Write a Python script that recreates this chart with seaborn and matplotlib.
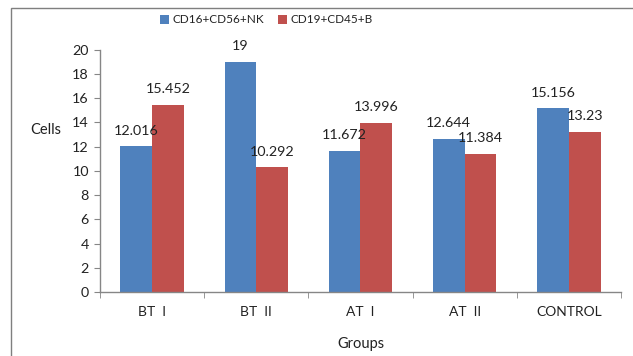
import numpy as np
import pandas as pd
import matplotlib
matplotlib.use('Agg')
import matplotlib.pyplot as plt
import seaborn as sns
from matplotlib.patches import Rectangle

# data
groups = ['BT  I', 'BT  II', 'AT  I', 'AT  II', 'CONTROL']
series = ['CD16+CD56+NK', 'CD19+CD45+B']
nk_vals = [12.016, 19, 11.672, 12.644, 15.156]
b_vals = [15.452, 10.292, 13.996, 11.384, 13.23]

df = pd.DataFrame({
    'Groups': groups * 2,
    'Series': [series[0]] * len(groups) + [series[1]] * len(groups),
    'Cells': nk_vals + b_vals,
})

sns.set_style('white')
plt.rcParams['font.family'] = ['Lato', 'DejaVu Sans']

fig = plt.figure(figsize=(6.33, 3.56), dpi=100)
ax = fig.add_axes([0.158, 0.180, 0.823, 0.680])

palette = {series[0]: '#4F81BD', series[1]: '#C0504D'}
sns.barplot(data=df, x='Groups', y='Cells', hue='Series', palette=palette,
            width=0.61, saturation=1, linewidth=0, ax=ax, legend=True)

for cont in ax.containers:
    ax.bar_label(cont, labels=[f'{v:g}' for v in cont.datavalues],
                 padding=7, fontsize=10.3, color='#222222')

ax.set_ylim(0, 20)
ax.set_yticks(np.arange(0, 21, 2))
ax.set_xlim(-0.5, len(groups) - 0.5)

gray = '#868686'
sns.despine(ax=ax)
for s in ['left', 'bottom']:
    ax.spines[s].set_color(gray)
    ax.spines[s].set_linewidth(1.0)

ax.tick_params(axis='y', which='major', direction='out', length=4, color=gray,
               left=True, labelsize=10.3, pad=4, labelcolor='#222222')
ax.tick_params(axis='x', which='major', length=0, labelsize=10, pad=10,
               labelcolor='#222222')
ax.set_xticks(np.arange(-0.5, len(groups)), minor=True)
ax.tick_params(axis='x', which='minor', direction='out', length=4, color=gray,
               bottom=True)

ax.set_xlabel('Groups', fontsize=10.5, labelpad=14, color='#222222')
ax.set_ylabel('Cells', fontsize=10.5, rotation=0, color='#222222')
ax.yaxis.set_label_coords(-0.105, 0.64)

leg = ax.legend(loc='upper center', bbox_to_anchor=(0.32, 1.19), ncol=2,
                frameon=False, fontsize=8.5, handlelength=0.75, handleheight=0.75,
                columnspacing=1.2, handletextpad=0.3)
for t in leg.get_texts():
    t.set_color('#222222')

# outer frame
fig.patches.append(Rectangle((11 / 633, -0.1), 1.2, 1.1 - 8 / 356,
                             transform=fig.transFigure, fill=False,
                             edgecolor='#7f7f7f', linewidth=1.0))

fig.savefig('out.png', dpi=100)
